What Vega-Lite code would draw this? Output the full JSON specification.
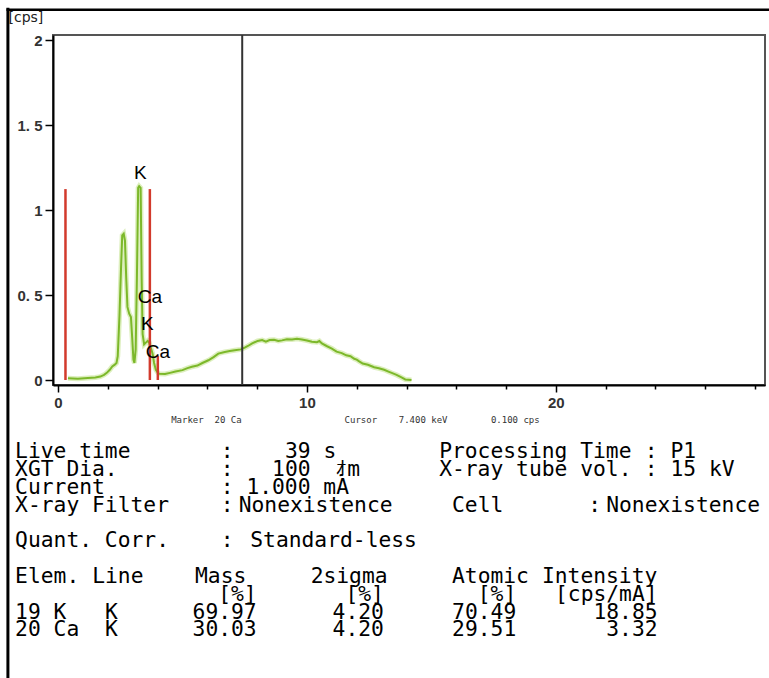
{
  "$schema": "https://vega.github.io/schema/vega-lite/v6.json",
  "padding": {"left": 5, "top": 6, "right": 0, "bottom": 0},
  "background": "white",
  "bounds": "flush",
  "spacing": 0,
  "config": {"axis": {"labelOverlap": false}},
  "datasets": {
    "spectrum": [
      {"E":0.40,"cps":0.01},{"E":0.8,"cps":0.008},{"E":1.2,"cps":0.012},{"E":1.5,"cps":0.015},{"E":1.7,"cps":0.02},
      {"E":1.85,"cps":0.03},{"E":1.96,"cps":0.042},{"E":2.08,"cps":0.06},{"E":2.18,"cps":0.08},{"E":2.28,"cps":0.09},
      {"E":2.35,"cps":0.10},{"E":2.40,"cps":0.14},{"E":2.47,"cps":0.38},{"E":2.53,"cps":0.65},{"E":2.58,"cps":0.85},
      {"E":2.64,"cps":0.86},{"E":2.69,"cps":0.82},{"E":2.74,"cps":0.60},{"E":2.79,"cps":0.43},{"E":2.86,"cps":0.39},
      {"E":2.93,"cps":0.37},{"E":2.98,"cps":0.25},{"E":3.03,"cps":0.12},{"E":3.07,"cps":0.10},{"E":3.12,"cps":0.18},
      {"E":3.17,"cps":0.60},{"E":3.22,"cps":1.13},{"E":3.26,"cps":1.14},{"E":3.32,"cps":1.13},{"E":3.36,"cps":0.60},
      {"E":3.40,"cps":0.27},{"E":3.46,"cps":0.21},{"E":3.53,"cps":0.22},{"E":3.60,"cps":0.23},{"E":3.66,"cps":0.22},
      {"E":3.73,"cps":0.19},{"E":3.80,"cps":0.155},{"E":3.86,"cps":0.10},{"E":3.93,"cps":0.06},{"E":4.00,"cps":0.045},
      {"E":4.07,"cps":0.036},{"E":4.30,"cps":0.035},{"E":4.50,"cps":0.042},{"E":4.72,"cps":0.05},{"E":5.00,"cps":0.058},
      {"E":5.20,"cps":0.07},{"E":5.38,"cps":0.078},{"E":5.60,"cps":0.085},{"E":5.80,"cps":0.10},{"E":6.04,"cps":0.116},
      {"E":6.25,"cps":0.135},{"E":6.44,"cps":0.155},{"E":6.70,"cps":0.165},{"E":6.90,"cps":0.17},{"E":7.10,"cps":0.175},
      {"E":7.35,"cps":0.18},{"E":7.50,"cps":0.19},{"E":7.63,"cps":0.20},{"E":7.80,"cps":0.215},{"E":8.02,"cps":0.23},
      {"E":8.20,"cps":0.235},{"E":8.35,"cps":0.226},{"E":8.50,"cps":0.235},{"E":8.68,"cps":0.237},{"E":8.85,"cps":0.23},
      {"E":9.00,"cps":0.233},{"E":9.20,"cps":0.24},{"E":9.40,"cps":0.238},{"E":9.60,"cps":0.243},{"E":9.80,"cps":0.238},
      {"E":10.00,"cps":0.232},{"E":10.20,"cps":0.225},{"E":10.40,"cps":0.222},{"E":10.50,"cps":0.229},{"E":10.60,"cps":0.215},
      {"E":10.79,"cps":0.20},{"E":11.00,"cps":0.185},{"E":11.19,"cps":0.167},{"E":11.40,"cps":0.158},{"E":11.58,"cps":0.145},
      {"E":11.75,"cps":0.14},{"E":11.90,"cps":0.125},{"E":12.00,"cps":0.12},{"E":12.10,"cps":0.11},{"E":12.24,"cps":0.097},
      {"E":12.45,"cps":0.09},{"E":12.70,"cps":0.075},{"E":12.89,"cps":0.069},{"E":13.10,"cps":0.06},{"E":13.30,"cps":0.048},
      {"E":13.43,"cps":0.04},{"E":13.60,"cps":0.03},{"E":13.80,"cps":0.015},{"E":13.95,"cps":0.003},{"E":14.20,"cps":0.0}
    ],
    "markers": [
      {"line":"Ca L","E":0.30,"h":1.123},
      {"line":"Ca Ka","E":3.69,"h":1.123},
      {"line":"Ca Kb","E":4.01,"h":0.143}
    ],
    "peaks": [
      {"label":"K","E":3.31,"y":1.219},
      {"label":"Ca","E":3.69,"y":0.49},
      {"label":"K","E":3.59,"y":0.33},
      {"label":"Ca","E":4.01,"y":0.165}
    ],
    "info": [
      {"row":1,"col":0,"text":"Live time"},{"row":1,"col":16,"text":":"},{"row":1,"col":21,"text":"39 s"},
      {"row":1,"col":33,"text":"Processing Time"},{"row":1,"col":49,"text":":"},{"row":1,"col":51,"text":"P1"},
      {"row":2,"col":0,"text":"XGT Dia."},{"row":2,"col":16,"text":":"},{"row":2,"col":20,"text":"100"},{"row":2,"col":25,"text":"ｵm"},
      {"row":2,"col":33,"text":"X-ray tube vol."},{"row":2,"col":49,"text":":"},{"row":2,"col":51,"text":"15 kV"},
      {"row":3,"col":0,"text":"Current"},{"row":3,"col":16,"text":":"},{"row":3,"col":18,"text":"1.000 mA"},
      {"row":4,"col":0,"text":"X-ray Filter"},{"row":4,"col":16,"text":":"},{"row":4,"col":17.4,"text":"Nonexistence"},
      {"row":4,"col":34,"text":"Cell"},{"row":4,"col":44.6,"text":":"},{"row":4,"col":46,"text":"Nonexistence"},
      {"row":6,"col":0,"text":"Quant. Corr."},{"row":6,"col":16,"text":":"},{"row":6,"col":18.3,"text":"Standard-less"},
      {"row":8,"col":0,"text":"Elem."},{"row":8,"col":6,"text":"Line"},{"row":8,"col":14,"text":"Mass"},
      {"row":8,"col":23,"text":"2sigma"},{"row":8,"col":34,"text":"Atomic"},{"row":8,"col":41,"text":"Intensity"},
      {"row":10,"col":0,"text":"19 K"},{"row":10,"col":7,"text":"K"},
      {"row":11,"col":0,"text":"20 Ca"},{"row":11,"col":7,"text":"K"}
    ],
    "results": [
      {"row":9,"col":18.8,"text":"[%]"},{"row":9,"col":28.7,"text":"[%]"},{"row":9,"col":39,"text":"[%]"},{"row":9,"col":50,"text":"[cps/mA]"},
      {"row":10,"col":18.8,"text":"69.97"},{"row":10,"col":28.7,"text":"4.20"},{"row":10,"col":39,"text":"70.49"},{"row":10,"col":50,"text":"18.85"},
      {"row":11,"col":18.8,"text":"30.03"},{"row":11,"col":28.7,"text":"4.20"},{"row":11,"col":39,"text":"29.51"},{"row":11,"col":50,"text":"3.32"}
    ]
  },
  "vconcat": [
    {
      "width": 712,
      "height": 350,
      "view": {"stroke": "#555", "strokeWidth": 2},
      "layer": [
        {
          "data": {"name": "spectrum"},
          "mark": {"type": "line", "color": "#d4ebae", "strokeWidth": 5, "opacity": 0.8, "clip": true},
          "encoding": {
            "x": {
              "field": "E", "type": "quantitative",
              "scale": {"domain": [0, 28.2], "nice": false},
              "axis": {
                "values": [0,1,2,3,4,5,6,7,8,9,10,11,12,13,14,15,16,17,18,19,20,21,22,23,24,25,26,27,28],
                "labelExpr": "datum.value % 10 === 0 ? datum.label : ''",
                "tickSize": {"condition": {"test": "datum.value % 10 === 0", "value": 7}, "value": 4},
                "tickColor": "#000", "tickWidth": 1.5,
                "domainColor": "#000", "domainWidth": 2,
                "labelFont": "Liberation Sans", "labelFontSize": 15, "labelFontWeight": "bold", "labelColor": "#333",
                "labelPadding": 3, "labelFlush": false, "labelOverlap": false, "grid": false,
                "title": "Marker\u00a0\u00a020\u00a0Ca\u00a0\u00a0\u00a0\u00a0\u00a0\u00a0\u00a0\u00a0\u00a0\u00a0\u00a0\u00a0\u00a0\u00a0\u00a0\u00a0\u00a0\u00a0\u00a0Cursor\u00a0\u00a0\u00a0\u00a07.400\u00a0keV\u00a0\u00a0\u00a0\u00a0\u00a0\u00a0\u00a0\u00a00.100\u00a0cps",
                "titleX": 117.7, "titleY": 34, "titleAlign": "left", "titleBaseline": "middle",
                "titleFont": "DejaVu Sans Mono", "titleFontSize": 9, "titleFontWeight": "normal", "titleColor": "#333"
              }
            },
            "y": {
              "field": "cps", "type": "quantitative",
              "scale": {"domain": [0, 2], "nice": false},
              "axis": {
                "values": [0, 0.5, 1, 1.5, 2],
                "labelExpr": "replace(datum.label, '.', '. ')",
                "format": "~g",
                "tickSize": 8,
                "tickColor": "#000", "tickWidth": 1.5,
                "domainColor": "#000", "domainWidth": 2,
                "labelFont": "Liberation Sans", "labelFontSize": 15, "labelFontWeight": "bold", "labelColor": "#333",
                "labelPadding": 3, "labelOverlap": false, "labelFlush": false, "grid": false,
                "title": "[cps]", "titleAngle": 0, "titleX": -45, "titleY": -18, "titleAlign": "left", "titleBaseline": "middle",
                "titleFont": "DejaVu Sans", "titleFontSize": 14, "titleFontWeight": "normal", "titleColor": "#222"
              }
            }
          }
        },
        {
          "data": {"name": "spectrum"},
          "mark": {"type": "line", "color": "#7cb82a", "strokeWidth": 2, "clip": true},
          "encoding": {
            "x": {"field": "E", "type": "quantitative", "scale": {"domain": [0, 28.2], "nice": false}},
            "y": {"field": "cps", "type": "quantitative", "scale": {"domain": [0, 2], "nice": false}}
          }
        },
        {
          "data": {"values": [{}]},
          "mark": {"type": "rule", "color": "#333", "strokeWidth": 2},
          "encoding": {
            "x": {"datum": 7.4, "type": "quantitative", "scale": {"domain": [0, 28.2], "nice": false}}
          }
        },
        {
          "data": {"name": "markers"},
          "mark": {"type": "bar", "color": "#d23a2c", "width": 2.5},
          "encoding": {
            "x": {"field": "E", "type": "quantitative", "scale": {"domain": [0, 28.2], "nice": false}},
            "y": {"field": "h", "type": "quantitative", "scale": {"domain": [0, 2], "nice": false}}
          }
        },
        {
          "data": {"name": "peaks"},
          "mark": {"type": "text", "font": "Liberation Sans", "fontSize": 19, "color": "#000", "align": "center", "baseline": "middle"},
          "encoding": {
            "x": {"field": "E", "type": "quantitative", "scale": {"domain": [0, 28.2], "nice": false}},
            "y": {"field": "y", "type": "quantitative", "scale": {"domain": [0, 2], "nice": false}},
            "text": {"field": "label", "type": "nominal"}
          }
        },
        {
          "data": {"values": [{}]},
          "mark": {"type": "bar", "color": "#000", "width": 3, "orient": "vertical", "clip": false},
          "encoding": {
            "x": {"datum": -2.012, "type": "quantitative", "scale": {"domain": [0, 28.2], "nice": false}},
            "y": {"datum": 2.19, "type": "quantitative", "scale": {"domain": [0, 2], "nice": false}}
          }
        },
        {
          "data": {"values": [{}]},
          "mark": {"type": "bar", "color": "#000", "width": 3, "orient": "vertical", "clip": false},
          "encoding": {
            "x": {"datum": -2.012, "type": "quantitative", "scale": {"domain": [0, 28.2], "nice": false}},
            "y": {"datum": -1.8, "type": "quantitative", "scale": {"domain": [0, 2], "nice": false}}
          }
        },
        {
          "data": {"values": [{}]},
          "mark": {"type": "bar", "color": "#000", "height": 2.5, "orient": "horizontal", "clip": false},
          "encoding": {
            "x": {"datum": -2.07, "type": "quantitative", "scale": {"domain": [0, 28.2], "nice": false}},
            "y": {"datum": 2.1785, "type": "quantitative", "scale": {"domain": [0, 2], "nice": false}}
          }
        },
        {
          "data": {"values": [{}]},
          "mark": {"type": "bar", "color": "#000", "height": 2.5, "orient": "horizontal", "clip": false},
          "encoding": {
            "x": {"datum": 31, "type": "quantitative", "scale": {"domain": [0, 28.2], "nice": false}},
            "y": {"datum": 2.1785, "type": "quantitative", "scale": {"domain": [0, 2], "nice": false}}
          }
        }
      ]
    },
    {
      "width": 712,
      "height": 290,
      "view": {"stroke": null},
      "layer": [
        {
          "data": {"name": "info"},
          "mark": {"type": "text", "align": "left", "baseline": "middle", "font": "DejaVu Sans Mono", "fontSize": 21.3, "color": "#000"},
          "encoding": {
            "x": {"field": "col", "type": "quantitative", "scale": {"domain": [2.95, 58.36], "nice": false, "zero": false}, "axis": null},
            "y": {"field": "row", "type": "quantitative", "scale": {"domain": [-2.79, 13.5], "nice": false, "zero": false, "reverse": true}, "axis": null},
            "text": {"field": "text", "type": "nominal"}
          }
        },
        {
          "data": {"name": "results"},
          "mark": {"type": "text", "align": "right", "baseline": "middle", "font": "DejaVu Sans Mono", "fontSize": 21.3, "color": "#000"},
          "encoding": {
            "x": {"field": "col", "type": "quantitative", "scale": {"domain": [2.95, 58.36], "nice": false, "zero": false}, "axis": null},
            "y": {"field": "row", "type": "quantitative", "scale": {"domain": [-2.79, 13.5], "nice": false, "zero": false, "reverse": true}, "axis": null},
            "text": {"field": "text", "type": "nominal"}
          }
        }
      ]
    }
  ]
}
